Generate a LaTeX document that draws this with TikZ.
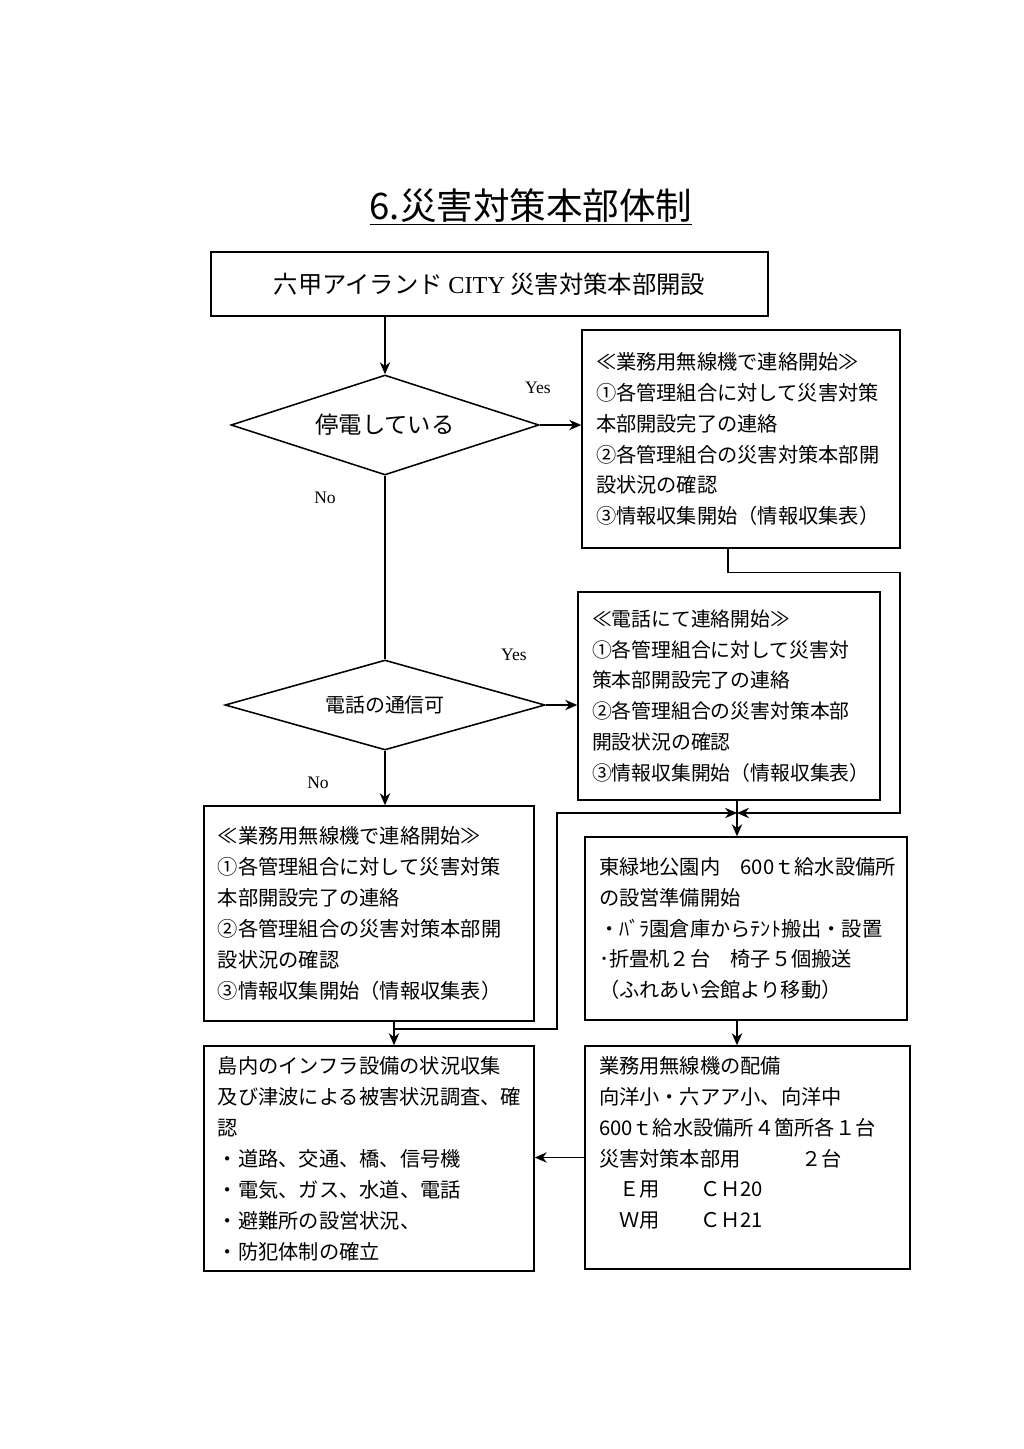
\documentclass[tikz,border=0pt]{standalone}
\usepackage{fontspec}
\setmainfont{Liberation Serif}
\newfontfamily\jfont{Noto Sans CJK JP}
\usetikzlibrary{arrows.meta,shapes.geometric}

\begin{document}
\begin{tikzpicture}[x=0.25mm,y=-0.25mm]
\tikzset{
  flowbox/.style={draw,line width=1.1pt,align=left,inner xsep=3.5mm,inner ysep=0pt,font=\jfont\fontsize{14.4}{22}\selectfont},
  decision/.style={diamond,draw,line width=1.1pt,inner sep=0pt},
  directed/.style={-{Stealth[length=3mm,width=2.6mm]},line width=0.9pt},
  undirected/.style={line width=0.9pt},
  answer/.style={font=\fontsize{12.5}{14}\selectfont}
}
\useasboundingbox (0,0) rectangle (1024,1449);
\node[font=\jfont\fontsize{26}{30}\selectfont] (n_title) at (531,207) {\underline{6.災害対策本部体制}};
\node[draw,line width=1.1pt,minimum width=139.25mm,minimum height=16mm,font=\jfont\fontsize{17.3}{20}\selectfont] (n_top) at (489.5,284) {六甲アイランド {\rmfamily CITY} 災害対策本部開設};
\node[decision,aspect=3,minimum width=77mm,minimum height=25mm,font=\jfont\fontsize{16.6}{20}\selectfont] (n_d1) at (385,425) {停電している};
\node[decision,aspect=3.5,minimum width=80mm,minimum height=22.5mm,font=\jfont\fontsize{14.2}{18}\selectfont] (n_d2) at (385,705) {電話の通信可};
\node[flowbox,text width=72.5mm,minimum height=54.5mm] (n_r1) at (741,439) {≪業務用無線機で連絡開始≫\\①各管理組合に対して災害対策\\本部開設完了の連絡\\②各管理組合の災害対策本部開\\設状況の確認\\③情報収集開始（情報収集表）};
\node[flowbox,text width=68.5mm,minimum height=52mm,font=\jfont\fontsize{14.1}{22}\selectfont] (n_r2) at (729,696) {≪電話にて連絡開始≫\\①各管理組合に対して災害対\\策本部開設完了の連絡\\②各管理組合の災害対策本部\\開設状況の確認\\③情報収集開始（情報収集表）};
\node[flowbox,text width=75.5mm,minimum height=53.75mm] (n_l1) at (369,913.5) {≪業務用無線機で連絡開始≫\\①各管理組合に対して災害対策\\本部開設完了の連絡\\②各管理組合の災害対策本部開\\設状況の確認\\③情報収集開始（情報収集表）};
\node[flowbox,text width=73.5mm,minimum height=45.75mm] (n_r3) at (746,928.5) {東緑地公園内　600ｔ給水設備所\\の設営準備開始\\・ﾊﾞﾗ園倉庫からﾃﾝﾄ搬出・設置\\･折畳机２台　椅子５個搬送\\（ふれあい会館より移動）};
\node[flowbox,text width=75.5mm,minimum height=56.25mm] (n_l2) at (369,1158.5) {島内のインフラ設備の状況収集\\及び津波による被害状況調査、確\\認\\・道路、交通、橋、信号機\\・電気、ガス、水道、電話\\・避難所の設営状況、\\・防犯体制の確立};
\node[flowbox,text width=74.25mm,minimum height=55.75mm] (n_r4) at (747.5,1157.5) {業務用無線機の配備\\向洋小・六アア小、向洋中\\600ｔ給水設備所４箇所各１台\\災害対策本部用　　　２台\\　Ｅ用　　ＣＨ20\\　Ｗ用　　ＣＨ21\\ \mbox{}};
\node[answer] (n_yes1) at (538,388) {Yes};
\node[answer] (n_no1) at (325,498) {No};
\node[answer] (n_yes2) at (514,655) {Yes};
\node[answer] (n_no2) at (318,783) {No};
\coordinate (c_join) at (737,813);
\coordinate (c_left) at (394,1029);
\draw[directed] (n_d1.north |- n_top.south) -- (n_d1.north);
\draw[directed] (n_d1.east) -- (n_d1.east -| n_r1.west);
\draw[undirected] (n_d1.south) -- (n_d2.north);
\draw[directed] (n_d2.east) -- (n_d2.east -| n_r2.west);
\draw[directed] (n_d2.south) -- (n_d2.south |- n_l1.north);
\draw[directed] (n_l1.south -| c_left) -- (n_l2.north -| c_left);
\draw[directed] (c_left) -- ++(163,0) |- (c_join);
\draw[directed] ([xshift=-3.25mm]n_r1.south) -- ++(0,24) -- ++(172,0) |- (c_join);
\draw[undirected] (n_r2.south -| c_join) -- (c_join);
\draw[directed] (c_join) -- (c_join |- n_r3.north);
\draw[directed] (n_r3.south -| c_join) -- (n_r4.north -| c_join);
\draw[directed] (n_r4.west) -- (n_r4.west -| n_l2.east);
\end{tikzpicture}
\end{document}
